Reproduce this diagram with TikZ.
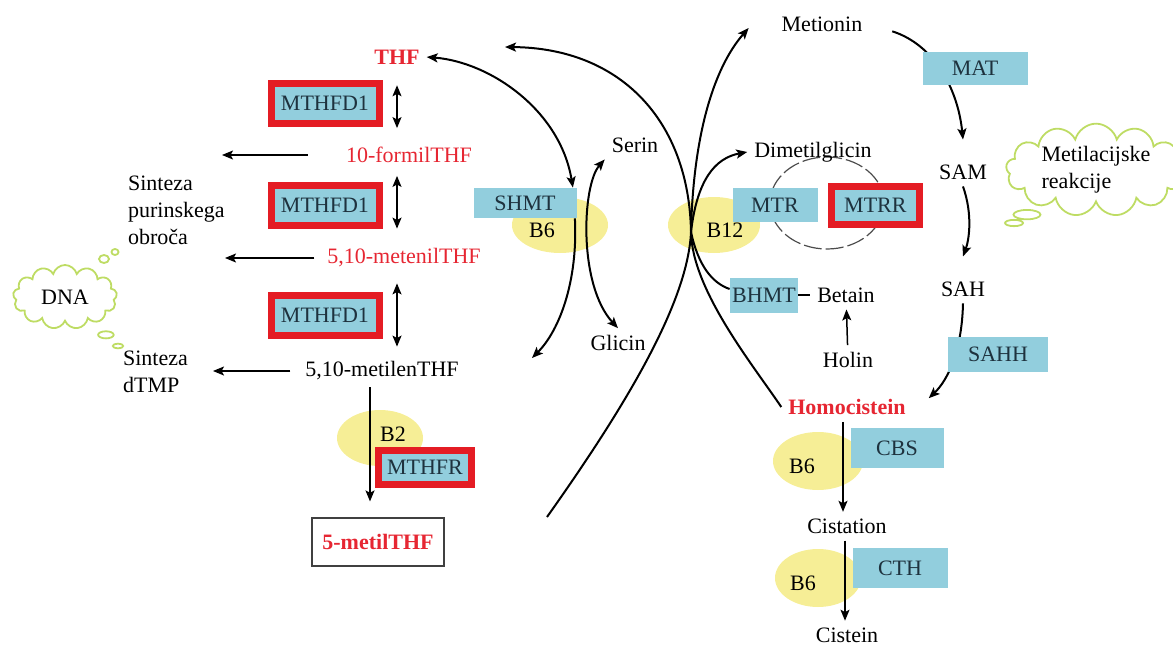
\documentclass[tikz,border=0pt]{standalone}
\usepackage{fontspec}
\setmainfont{Liberation Serif}
\usetikzlibrary{positioning, arrows.meta, shapes.geometric, shapes.symbols, shapes.callouts, backgrounds}
\definecolor{enzblue}{RGB}{146,206,221}
\definecolor{enzred}{RGB}{228,28,36}
\definecolor{enztext}{RGB}{30,50,62}
\definecolor{vityellow}{RGB}{246,238,150}
\definecolor{txtred}{RGB}{230,38,50}
\definecolor{cloudgreen}{RGB}{190,220,100}
\tikzset{
->,  % makes the connectors directed
>={Stealth[length=5.5pt, width=4.5pt, inset=1.2pt]}, % arrow heads
enz/.style={fill=enzblue, text=enztext, inner sep=1pt}, % enzyme boxes
enzr/.style={enz, draw=enzred, line width=3.5pt, minimum width=54pt, minimum height=20pt}, % enzymes with red frame
vit/.style={ellipse, fill=vityellow, inner sep=0pt}, % vitamin cofactors
bubble/.style={cloud callout, cloud puffs=13, cloud ignores aspect, draw=cloudgreen, line width=0.9pt, inner sep=0pt, align=left}, % thought clouds
puff/.style={ellipse, draw=cloudgreen, line width=0.9pt, inner sep=0pt}, % small cloud puffs
curve/.style={line width=1pt}, % long arcs
}

\begin{document}
\begin{tikzpicture}[x=0.5pt, y=-0.5pt, font=\fontsize{11}{13.5}\selectfont, node distance=44pt]
\useasboundingbox (0,0) rectangle (1173,648);

% folate cycle
\node[text=txtred] (thf) at (397,57) {\textbf{THF}};
\node[enzr] (fd1a) at (325,103) {MTHFD1};
\node[text=txtred] (formil) at (409,155) {10-formilTHF};
\node[enzr] (fd1b) at (325,205) {MTHFD1};
\node[text=txtred] (metenil) at (404,258) {5,10-metenilTHF};
\node[enzr] (fd1c) at (325,315) {MTHFD1};
\node (metilen) at (382,371) {5,10-metilenTHF};
\node[align=left, anchor=west] (purin) at (121,210) {Sinteza\\purinskega\\obroča};
\node[align=left, anchor=west] (dtmp) at (116,372) {Sinteza\\dTMP};
\node[bubble, callout absolute pointer={(118,346)}, minimum width=52pt, minimum height=32pt] (dna) at (65,297) {DNA};
\node[puff, minimum width=5pt, minimum height=4pt] (dnapuff1) at (104,259) {};
\node[puff, minimum width=3.5pt, minimum height=3pt] (dnapuff2) at (115,252) {};
\node[enzr, minimum width=46.5pt, minimum height=17pt] (mthfr) at (425,467) {MTHFR};
\node[draw=black!75, line width=0.6pt, minimum width=66pt, minimum height=24pt, text=txtred] (metilthf) at (378,542) {\textbf{5-metilTHF}};
\node (b2t) at (393,434) {B2};

% serin - glicin
\node[enz, minimum width=51.5pt, minimum height=15pt] (shmt) at (525,203) {SHMT};
\node (b6at) at (542,230) {B6};
\node (serin) at (635,145) {Serin};
\node (glicin) at (618,343) {Glicin};

% methionine cycle
\node (metionin) at (822,24) {Metionin};
\node[enz, minimum width=52.5pt, minimum height=16.5pt] (mat) at (975,68) {MAT};
\node (sam) at (963,172) {SAM};
\node[below=of sam] (sah) {SAH};
\node[enz, minimum width=50pt, minimum height=17.5pt] (sahh) at (998,354) {SAHH};
\node[text=txtred] (homocis) at (847,407) {\textbf{Homocistein}};
\node (dimet) at (813,152) {Dimetilglicin};
\node[enz, minimum width=42.5pt, minimum height=17pt] (mtr) at (775,205) {MTR};
\node[enzr, minimum width=44pt, minimum height=19pt, right=5pt of mtr] (mtrr) {MTRR};
\node (b12t) at (725,230) {B12};
\node[enz, minimum width=34pt, minimum height=17.5pt] (bhmt) at (764,295) {BHMT};
\node (betain) at (846,295) {Betain};
\node (holin) at (848,360) {Holin};
\node[bubble, callout absolute pointer={(1014,223)}, minimum width=90pt, minimum height=41pt] (metcloud) at (1096,170) {Metilacijske\\reakcije};

% transsulfuration
\node[below=45pt of homocis] (cistation) {Cistation};
\node[below=40pt of cistation] (cistein) {Cistein};
\node[enz, minimum width=46.5pt, minimum height=20pt] (cbs) at (897,448) {CBS};
\node[enz, minimum width=47.5pt, minimum height=20pt] (cth) at (900,568) {CTH};
\node (b6bt) at (802,466) {B6};
\node (b6ct) at (803,583) {B6};

\coordinate (b12x) at (691,232);
\coordinate (thfin) at (505,47);
\coordinate (metilin) at (532,358);
\coordinate (metilout) at (547,517);
\coordinate (purinin1) at (222,155);
\coordinate (purinin2) at (225,258);
\coordinate (dtmpin) at (213,371);

\begin{scope}[on background layer]
\node[vit, minimum width=43pt, minimum height=28pt] (b2) at (380,438) {};
\node[vit, minimum width=48pt, minimum height=28pt] (b6a) at (560,225) {};
\node[vit, minimum width=46pt, minimum height=28pt] (b12) at (714,225) {};
\node[vit, minimum width=45pt, minimum height=29pt] (b6b) at (818,461) {};
\node[vit, minimum width=43pt, minimum height=29pt] (b6c) at (818,578) {};
\node[ellipse, draw=black!70, line width=0.6pt, dash pattern=on 9pt off 2pt, minimum width=57pt, minimum height=46pt] (mtrcycle) at (827,203) {};

\draw[curve, <->] (thf.east) .. controls (490,62) and (560,110) .. ([xshift=-2pt]shmt.north east);
\draw[curve] ([xshift=-1pt]shmt.south east) .. controls (578,280) and (560,330) .. (metilin);
\draw[curve, <->] (serin.south west) .. controls (582,185) and (578,285) .. (glicin.north);
\draw[curve] (homocis.west) .. controls (753,365) and (692,290) .. (b12x) .. controls (689,120) and (620,48) .. (thfin);
\draw[curve] (metilout) .. controls (630,400) and (688,300) .. (b12x) .. controls (693,140) and (712,70) .. ([xshift=-13pt, yshift=-2pt]metionin.west);
\draw[curve] (b12x) .. controls (697,180) and (715,158) .. (dimet.west);
\draw[curve, -] (b12x) .. controls (698,265) and (712,283) .. ([yshift=3pt]bhmt.west);
\draw[curve, shorten <=12pt] (metionin.east) .. controls (935,45) and (958,90) .. ([yshift=9pt]sam.north);
\draw[curve] (sam.south) .. controls (973,215) and (969,240) .. ([yshift=9pt]sah.north);
\draw[curve] (sah.south) .. controls (962,350) and (948,380) .. ([xshift=8pt, yshift=-3pt]homocis.north east);

\draw[line width=0.75pt, -]
(thf.south) edge[<->, shorten <=7pt, shorten >=6pt] (thf.south |- formil.north)
(thf.south |- formil.south) edge[<->, shorten <=3pt, shorten >=6.5pt] (thf.south |- metenil.north)
(thf.south |- metenil.south) edge[<->, shorten <=4.5pt, shorten >=4pt] (thf.south |- metilen.north)
(formil.west) edge[->, shorten <=15.5pt] (purinin1)
(metenil.west) edge[->, shorten <=3pt] (purinin2)
(metilen.west) edge[->, shorten <=4pt] (dtmpin)
([xshift=-6pt]metilen.south) edge[->, shorten >=8pt] ([xshift=-4pt]metilthf.north)
(holin) edge[->] (betain)
(bhmt) edge (betain)
([xshift=-2pt]homocis.south) edge[->] ([xshift=-2pt]cistation.north)
([xshift=-1pt]cistation.south) edge[->] ([xshift=-1pt]cistein.north);
\end{scope}
\end{tikzpicture}
\end{document}
